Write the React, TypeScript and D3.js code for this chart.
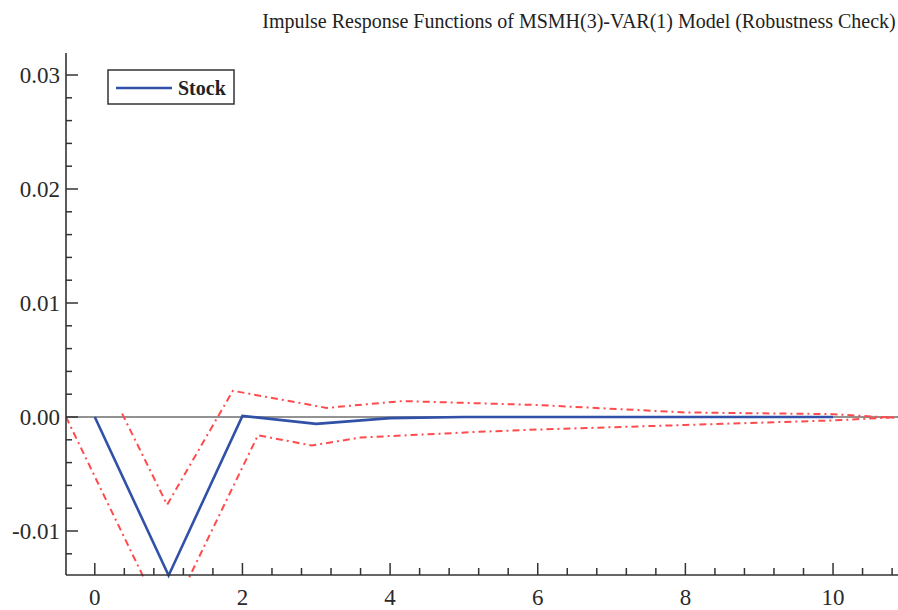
import React, { useEffect, useRef } from 'react';
import * as d3 from 'd3';

// Horizons and the point response of Stock
const horizons = [0, 1, 2, 3, 4, 5, 6, 7, 8, 9, 10];
const stockResponse = [0, -0.0139, 0.0001, -0.0006, -0.0001, 0, 0, 0, 0, 0, 0];

const upperBandX = [0.37, 0.98, 1.87, 3.14, 4.17, 6, 8, 10, 10.9];
const upperBandY = [0.0003, -0.0077, 0.0023, 0.0008, 0.0014, 0.00105, 0.0004, 0.00025, -0.0001];
const lowerBandX = [-0.39, 0.97, 2.21, 2.94, 3.6, 5.2, 6, 8, 10, 10.9];
const lowerBandY = [0, -0.0182, -0.0016, -0.0025, -0.0018, -0.0013, -0.0011, -0.0007, -0.0003, 0];

const yMajorTicks = [-0.01, 0, 0.01, 0.02, 0.03];
const xMajorTicks = [0, 2, 4, 6, 8, 10];

const title = 'Impulse Response Functions of MSMH(3)-VAR(1) Model (Robustness Check)';
const seriesName = 'Stock';

export default function App() {
  const svgRef = useRef<SVGSVGElement>(null);
  const width = 898;
  const height = 610;

  useEffect(() => {
    if (!svgRef.current) return;
    const svg = d3.select(svgRef.current);
    svg.selectAll('*').remove();

    const left = 66;
    const right = 898;
    const top = 53;
    const bottom = 575;

    const x = d3.scaleLinear().domain([-0.39, 10.88]).range([left, right]);
    const y = d3.scaleLinear().domain([-0.01386, 0.03193]).range([bottom, top]);

    const font = '"Liberation Serif", "DejaVu Serif", serif';
    const axisColor = '#333';

    // Title
    svg.append('text')
      .attr('x', 579)
      .attr('y', 28)
      .attr('text-anchor', 'middle')
      .style('font-family', font)
      .style('font-size', '20px')
      .attr('fill', '#222')
      .text(title);

    svg.append('clipPath')
      .attr('id', 'plot-clip')
      .append('rect')
      .attr('x', left)
      .attr('y', top)
      .attr('width', right - left)
      .attr('height', bottom - top + 4);

    const plot = svg.append('g').attr('clip-path', 'url(#plot-clip)');

    // Zero line
    plot.append('line')
      .attr('x1', left)
      .attr('x2', right)
      .attr('y1', y(0))
      .attr('y2', y(0))
      .attr('stroke', '#6e6e6e')
      .attr('stroke-width', 1.6);

    const line = d3.line<[number, number]>()
      .x(d => x(d[0]))
      .y(d => y(d[1]));

    // Bands
    const upper = upperBandX.map((v, i) => [v, upperBandY[i]] as [number, number]);
    const lower = lowerBandX.map((v, i) => [v, lowerBandY[i]] as [number, number]);
    [upper, lower].forEach(band => {
      plot.append('path')
        .attr('d', line(band))
        .attr('fill', 'none')
        .attr('stroke', '#ff4b4b')
        .attr('stroke-width', 2)
        .attr('stroke-dasharray', '7,4,2,4');
    });

    // Stock response
    plot.append('path')
      .attr('d', line(horizons.map((h, i) => [h, stockResponse[i]] as [number, number])))
      .attr('fill', 'none')
      .attr('stroke', '#3150a8')
      .attr('stroke-width', 2.6)
      .attr('stroke-linejoin', 'miter');

    // Axes
    svg.append('line')
      .attr('x1', left).attr('x2', left)
      .attr('y1', top).attr('y2', bottom)
      .attr('stroke', axisColor).attr('stroke-width', 1.6);
    svg.append('line')
      .attr('x1', left).attr('x2', right)
      .attr('y1', bottom).attr('y2', bottom)
      .attr('stroke', axisColor).attr('stroke-width', 1.6);

    // Y ticks
    const yMinor = d3.range(-12, 31, 2).map(v => v / 1000);
    svg.append('g').selectAll('line')
      .data(yMinor)
      .enter().append('line')
      .attr('x1', left)
      .attr('x2', d => (yMajorTicks.some(t => Math.abs(t - d) < 1e-9) ? left + 12 : left + 6))
      .attr('y1', d => y(d))
      .attr('y2', d => y(d))
      .attr('stroke', axisColor)
      .attr('stroke-width', 1.5);

    svg.append('g').selectAll('text')
      .data(yMajorTicks)
      .enter().append('text')
      .attr('x', left - 6)
      .attr('y', d => y(d))
      .attr('dy', '0.35em')
      .attr('text-anchor', 'end')
      .style('font-family', font)
      .style('font-size', '23px')
      .attr('fill', '#2a2a2a')
      .text(d => d3.format('.2f')(d).replace('\u2212', '-'));

    // X ticks
    const xMinor = d3.range(0, 28).map(i => i * 0.4);
    svg.append('g').selectAll('line')
      .data(xMinor)
      .enter().append('line')
      .attr('x1', d => x(d))
      .attr('x2', d => x(d))
      .attr('y1', bottom)
      .attr('y2', d => (xMajorTicks.some(t => Math.abs(t - d) < 1e-9) ? bottom - 12 : bottom - 7))
      .attr('stroke', axisColor)
      .attr('stroke-width', 1.5);

    svg.append('g').selectAll('text')
      .data(xMajorTicks)
      .enter().append('text')
      .attr('x', d => x(d))
      .attr('y', 605)
      .attr('text-anchor', 'middle')
      .style('font-family', font)
      .style('font-size', '23px')
      .attr('fill', '#2a2a2a')
      .text(d => String(d));

    // Legend
    const legend = svg.append('g');
    legend.append('rect')
      .attr('x', 108)
      .attr('y', 70)
      .attr('width', 126)
      .attr('height', 34)
      .attr('fill', 'white')
      .attr('stroke', '#333')
      .attr('stroke-width', 1.5);
    legend.append('line')
      .attr('x1', 116)
      .attr('x2', 172)
      .attr('y1', 88)
      .attr('y2', 88)
      .attr('stroke', '#3150a8')
      .attr('stroke-width', 2.6);
    legend.append('text')
      .attr('x', 178)
      .attr('y', 95)
      .style('font-family', font)
      .style('font-size', '20px')
      .style('font-weight', 'bold')
      .attr('fill', '#222')
      .text(seriesName);
  }, []);

  return (
    <div style={{ position: 'absolute', left: 0, top: 0 }}>
      <svg ref={svgRef} width={width} height={height} style={{ display: 'block', background: 'white' }}></svg>
    </div>
  );
}
